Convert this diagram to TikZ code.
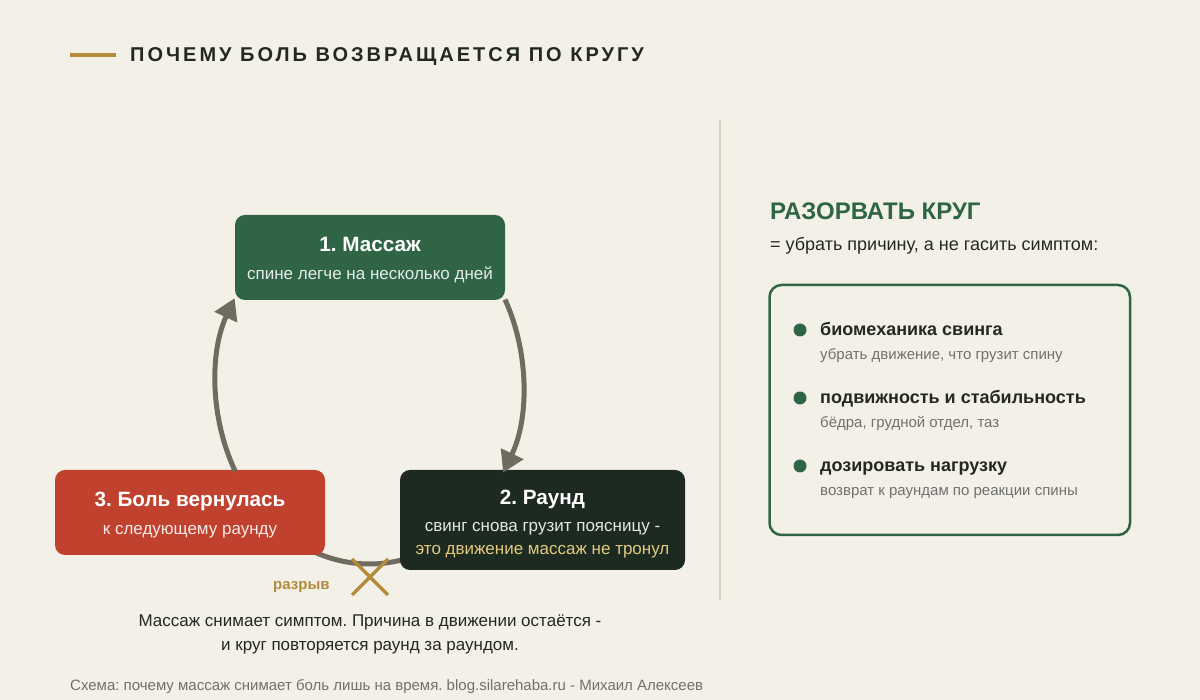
\documentclass[tikz,border=0pt]{standalone}
\usepackage{fontspec}
\setmainfont{Liberation Sans}
\usetikzlibrary{arrows.meta}
\definecolor{bgc}{HTML}{F3F1E7}
\definecolor{greenc}{HTML}{2F6445}
\definecolor{darkc}{HTML}{1D2A21}
\definecolor{redc}{HTML}{C1412F}
\definecolor{arrowc}{HTML}{6F6B5F}
\definecolor{goldc}{HTML}{B48A3C}
\definecolor{textc}{HTML}{23291F}
\definecolor{yellowc}{HTML}{E3C97E}
\definecolor{greyc}{HTML}{707070}
\definecolor{divc}{HTML}{D9D3C3}
\frenchspacing
\begin{document}
\begin{tikzpicture}[x=1pt,y=1pt,
  btitle/.style={font=\bfseries\fontsize{20.7}{24}\selectfont, inner sep=0pt, anchor=base},
  bsub/.style={font=\fontsize{17}{20}\selectfont, inner sep=0pt, anchor=base},
  flow/.style={draw=arrowc, line width=5pt, -{Triangle[length=21pt,width=24pt]}},
  txt/.style={inner sep=0pt, anchor=base west},
]
\useasboundingbox (0,0) rectangle (1200,700);
\fill[bgc] (0,0) rectangle (1200,700);

% title
\coordinate (tl1) at (70,645);
\coordinate (tl2) at (116,645);
\draw[goldc, line width=4.5pt] (tl1) -- (tl2);
\node[txt, text=textc, font=\bfseries\fontsize{20}{22}\selectfont\addfontfeatures{LetterSpace=15}] (title) at (130,638) {ПОЧЕМУ БОЛЬ ВОЗВРАЩАЕТСЯ ПО КРУГУ};

% ellipse of the cycle
\coordinate (ec) at (369.5,316);
\path (ec) ++(245:153.5 and 180) coordinate (ba1);
\path (ec) ++(28:153.5 and 180) coordinate (r1);
\path (ec) ++(209:153.5 and 180) coordinate (l1);

% bottom arc (behind boxes)
\draw[arrowc, line width=5pt] (ba1) arc[start angle=245, end angle=295, x radius=153.5, y radius=180];

% boxes
\fill[greenc, rounded corners=10pt] (235,400) rectangle (505,485);
\node[inner sep=0pt] (b1) at (370,442.5) {};
\node[btitle, text=white] (b1t) at (370,448) {1. Массаж};
\node[bsub, text=white!88!greenc] (b1s) at (370,420) {спине легче на несколько дней};

\fill[darkc, rounded corners=10pt] (400,130) rectangle (685,230);
\node[inner sep=0pt] (b2) at (542.5,180) {};
\node[btitle, text=white] (b2t) at (542.5,195) {2. Раунд};
\node[bsub, text=white!88!darkc] (b2s) at (542.5,168) {свинг снова грузит поясницу -};
\node[bsub, text=yellowc] (b2y) at (542.5,145) {это движение массаж не тронул};

\fill[redc, rounded corners=10pt] (55,145) rectangle (325,230);
\node[inner sep=0pt] (b3) at (190,187.5) {};
\node[btitle, text=white] (b3t) at (190,193) {3. Боль вернулась};
\node[bsub, text=white!88!redc] (b3s) at (190,165) {к следующему раунду};

% arrows
\draw[flow] (r1) arc[start angle=28, end angle=-29.5, x radius=153.5, y radius=180];
\draw[flow] (l1) arc[start angle=209, end angle=151.5, x radius=153.5, y radius=180];

% cross
\coordinate (x1) at (352,141);
\coordinate (x2) at (388,105);
\coordinate (x3) at (388,141);
\coordinate (x4) at (352,105);
\draw[goldc, line width=3.2pt] (x1) -- (x2);
\draw[goldc, line width=3.2pt] (x3) -- (x4);
\node[txt, text=goldc, font=\bfseries\fontsize{15}{17}\selectfont] (raz) at (273,110) {разрыв};

% caption
\node[text=textc, font=\fontsize{17}{20}\selectfont, inner sep=0pt, anchor=base] (cap1) at (370,73) {Массаж снимает симптом. Причина в движении остаётся -};
\node[text=textc, font=\fontsize{17}{20}\selectfont, inner sep=0pt, anchor=base] (cap2) at (370,49) {и круг повторяется раунд за раундом.};

% footer
\node[txt, text=greyc, font=\fontsize{15}{17}\selectfont] (foot) at (70,9) {Схема: почему массаж снимает боль лишь на время. blog.silarehaba.ru - Михаил Алексеев};

% divider
\coordinate (d1) at (720,580);
\coordinate (d2) at (720,100);
\draw[divc, line width=2pt] (d1) -- (d2);

% right panel
\node[txt, text=greenc, font=\bfseries\fontsize{24}{27}\selectfont] (rt) at (770,480) {РАЗОРВАТЬ КРУГ};
\node[txt, text=textc, font=\fontsize{18}{21}\selectfont] (rs) at (770,449) {= убрать причину, а не гасить симптом:};
\draw[greenc, line width=2.5pt, rounded corners=12pt] (769.5,415) rectangle (1130,165);
\node[inner sep=0pt] (panel) at (950,290) {};

\foreach \yy/\head/\sub [count=\i] in {370/биомеханика свинга/{убрать движение, что грузит спину},
  302/подвижность и стабильность/{бёдра, грудной отдел, таз},
  234/дозировать нагрузку/{возврат к раундам по реакции спины}} {
  \fill[greenc] (800,\yy) circle (6.5pt);
  \node[txt, text=textc, font=\bfseries\fontsize{18}{21}\selectfont] (h\i) at (820,\yy-6) {\head};
  \node[txt, text=greyc, font=\fontsize{15}{17}\selectfont] (s\i) at (820,\yy-30) {\sub};
}
\end{tikzpicture}
\end{document}
